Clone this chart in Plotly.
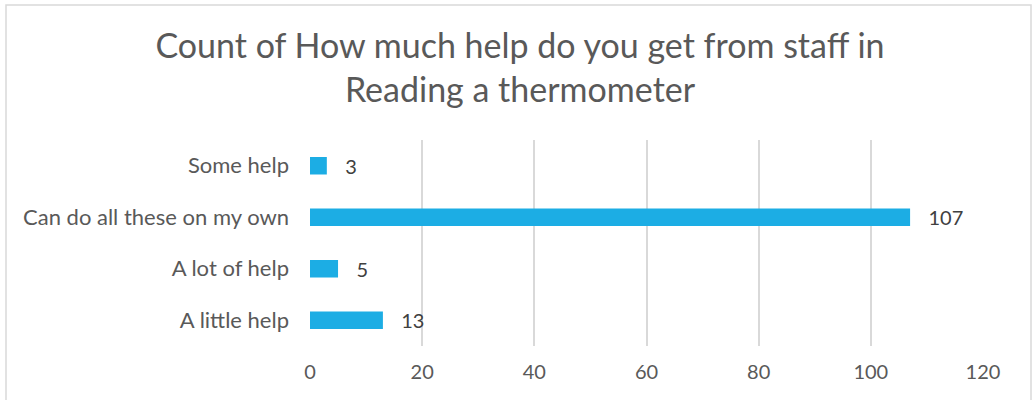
import plotly.graph_objects as go

categories = ["A little help", "A lot of help", "Can do all these on my own", "Some help"]
counts = [13, 5, 107, 3]
tick_vals = [0, 20, 40, 60, 80, 100, 120]

W, H = 1032, 400
L, R, T, B = 310, 49, 140, 54
pw, ph = W - L - R, H - T - B

def px_x(p):
    return (p - L) / pw

def px_y(p):
    return (H - B - p) / ph

font = "Lato, Open Sans, sans-serif"

fig = go.Figure()
fig.add_trace(go.Bar(
    y=categories, x=counts, orientation="h",
    marker=dict(color="#1CADE4", line=dict(width=0)),
    text=["\u00a0\u00a0\u00a0" + str(c) for c in counts], textposition="outside",
    constraintext="none",
    textfont=dict(family=font, size=20, color="#404040"),
    cliponaxis=False, width=0.34, hoverinfo="skip",
))

fig.update_layout(
    width=W, height=H,
    margin=dict(l=L, r=R, t=T, b=B, pad=0),
    paper_bgcolor="white", plot_bgcolor="white",
    showlegend=False,
    title=dict(
        text="Count of How much help do you get from staff in<br>Reading a thermometer",
        x=520 / W, xanchor="center",
        y=1 - 58 / H, yanchor="middle",
        font=dict(family=font, size=34, color="#595959"),
    ),
    xaxis=dict(
        range=[0, 120], tickvals=tick_vals, showgrid=True, gridcolor="#D9D9D9", gridwidth=2,
        zeroline=False, showline=False, ticks="",
        tickfont=dict(family=font, size=20, color="#595959"), ticklabelstandoff=12,
    ),
    yaxis=dict(
        categoryorder="array", categoryarray=categories,
        range=[-0.5, 3.5], showgrid=False, zeroline=False, showline=False, ticks="",
        tickfont=dict(family=font, size=22, color="#595959"), ticklabelstandoff=20,
    ),
    shapes=[dict(
        type="rect", xref="paper", yref="paper",
        x0=px_x(6), x1=px_x(1031), y0=px_y(410), y1=px_y(5),
        line=dict(color="#D9D9D9", width=1.5), fillcolor="rgba(0,0,0,0)", layer="below",
    )],
)

fig.write_html("out.html", config={"displayModeBar": False},
               post_script="document.body.style.margin='0';")
